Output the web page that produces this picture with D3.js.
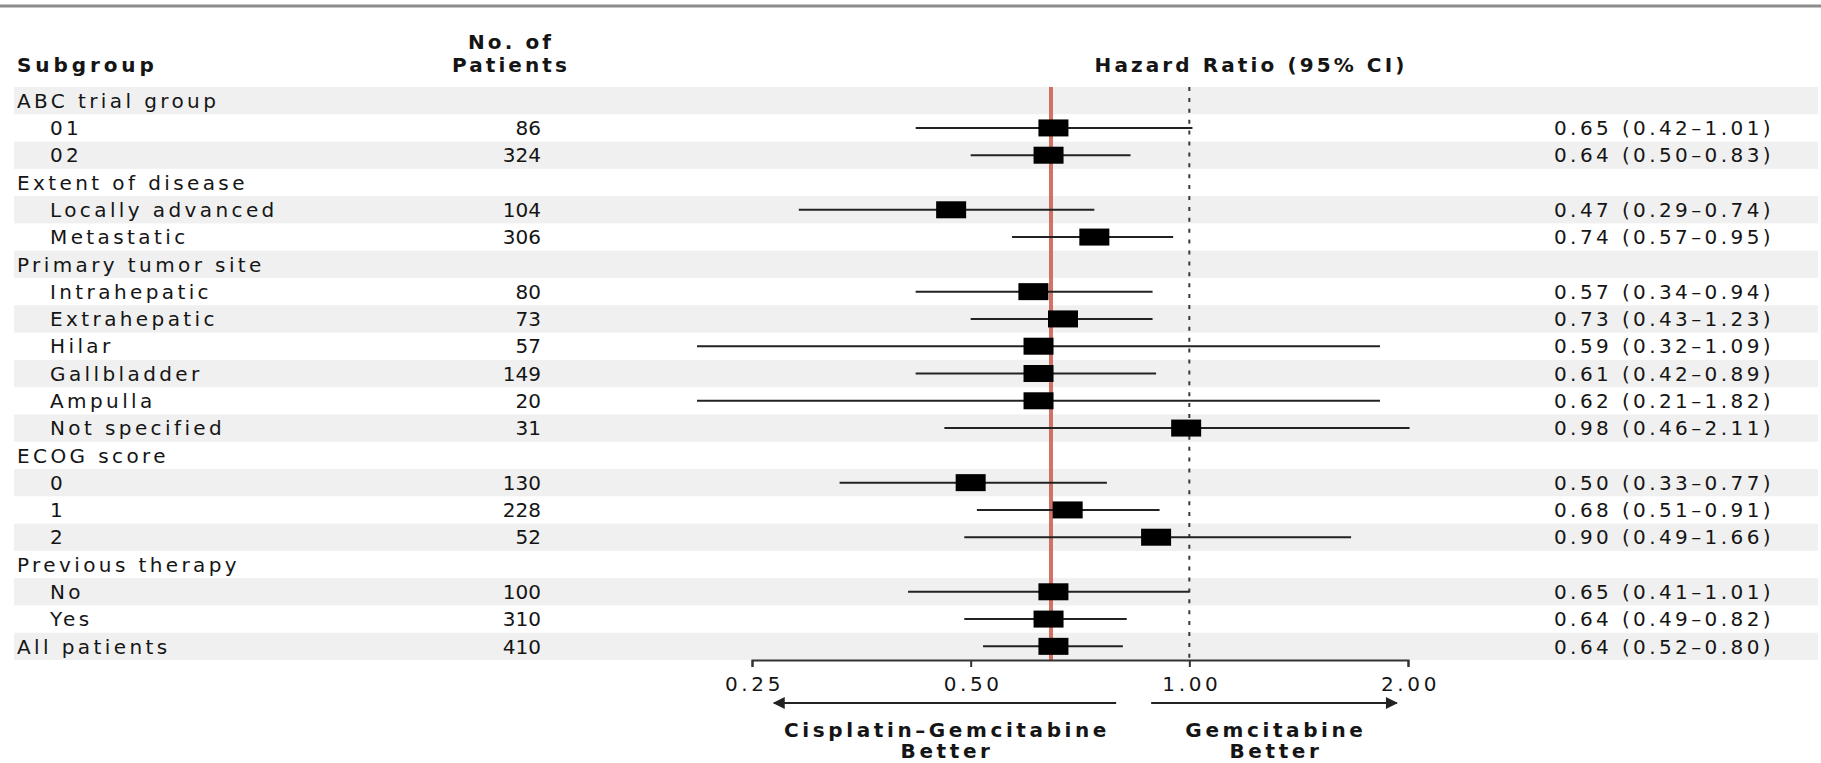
<!DOCTYPE html>
<html>
<head>
<meta charset="utf-8">
<script src="https://cdn.jsdelivr.net/npm/d3@7"></script>
<style>
body { margin: 0; background: #fff; }
text { font-family: "DejaVu Sans", "Open Sans", sans-serif; fill: #151515; }
</style>
</head>
<body>
<script>
var width = 1821, height = 763;

var subgroups = ["ABC trial group", "01", "02", "Extent of disease", "Locally advanced", "Metastatic",
    "Primary tumor site", "Intrahepatic", "Extrahepatic", "Hilar", "Gallbladder", "Ampulla", "Not specified",
    "ECOG score", "0", "1", "2", "Previous therapy", "No", "Yes", "All patients"];
var indent = [0, 1, 1, 0, 1, 1, 0, 1, 1, 1, 1, 1, 1, 0, 1, 1, 1, 0, 1, 1, 0];
var patients = [null, 86, 324, null, 104, 306, null, 80, 73, 57, 149, 20, 31, null, 130, 228, 52, null, 100, 310, 410];

// drawn positions
var hr = [null, 0.65, 0.64, null, 0.47, 0.74, null, 0.61, 0.67, 0.62, 0.62, 0.62, 0.99, null, 0.50, 0.68, 0.90, null, 0.65, 0.64, 0.65];
var lo = [null, 0.42, 0.50, null, 0.29, 0.57, null, 0.42, 0.50, 0.21, 0.42, 0.21, 0.46, null, 0.33, 0.51, 0.49, null, 0.41, 0.49, 0.52];
var hi = [null, 1.01, 0.83, null, 0.74, 0.95, null, 0.89, 0.89, 1.83, 0.90, 1.83, 2.01, null, 0.77, 0.91, 1.67, null, 1.00, 0.82, 0.81];

var ciText = [null, "0.65 (0.42\u20131.01)", "0.64 (0.50\u20130.83)", null, "0.47 (0.29\u20130.74)", "0.74 (0.57\u20130.95)",
    null, "0.57 (0.34\u20130.94)", "0.73 (0.43\u20131.23)", "0.59 (0.32\u20131.09)", "0.61 (0.42\u20130.89)",
    "0.62 (0.21\u20131.82)", "0.98 (0.46\u20132.11)", null, "0.50 (0.33\u20130.77)", "0.68 (0.51\u20130.91)",
    "0.90 (0.49\u20131.66)", null, "0.65 (0.41\u20131.01)", "0.64 (0.49\u20130.82)", "0.64 (0.52\u20130.80)"];

var tickValues = [0.25, 0.5, 1, 2];
var tickLabels = ["0.25", "0.50", "1.00", "2.00"];
var overallHR = 0.645;
var nullHR = 1;
var leftArrow = [0.268, 0.793];
var rightArrow = [0.886, 1.93];

var fontSize = "20px";

var svg = d3.select("body").append("svg")
        .attr("width", width)
        .attr("height", height);

var x = d3.scaleLog().base(2)
        .domain([0.25, 2])
        .range([752, 1408]);

var y = d3.scaleBand()
        .domain(d3.range(subgroups.length))
        .range([87, 660]);

// top rule
svg.append("line")
    .attr("x1", 0).attr("x2", width)
    .attr("y1", 6).attr("y2", 6)
    .style("stroke", "#8c8c8c")
    .style("stroke-width", 3);

// stripes
svg.append("g").selectAll("rect")
    .data(d3.range(subgroups.length).filter(function(i) { return i % 2 == 0; }))
    .enter().append("rect")
    .attr("x", 14)
    .attr("width", 1818 - 14)
    .attr("y", function(i) { return y(i); })
    .attr("height", y.bandwidth())
    .style("fill", "#f0f0f0");

// headers
var head = svg.append("g").style("font-weight", "bold").style("font-size", fontSize).style("letter-spacing", "3.1px");
head.append("text").attr("x", 17).attr("y", 72).style("letter-spacing", "3.9px").text("Subgroup");
head.append("text").attr("x", 511).attr("y", 49).attr("text-anchor", "middle").text("No. of");
head.append("text").attr("x", 511).attr("y", 72).attr("text-anchor", "middle").text("Patients");
head.append("text").attr("x", 1251).attr("y", 72).attr("text-anchor", "middle").text("Hazard Ratio (95% CI)");

var body = svg.append("g").style("font-size", fontSize).style("letter-spacing", "3.4px");

body.selectAll("text.label")
    .data(subgroups)
    .enter().append("text")
    .attr("class", "label")
    .attr("x", function(d, i) { return indent[i] ? 50 : 17; })
    .attr("y", function(d, i) { return y(i) + y.bandwidth() / 2; })
    .attr("dy", "0.36em")
    .text(function(d) { return d; });

body.selectAll("text.n")
    .data(patients)
    .enter().append("text")
    .attr("class", "n")
    .attr("x", 541)
    .attr("y", function(d, i) { return y(i) + y.bandwidth() / 2; })
    .attr("dy", "0.36em")
    .attr("text-anchor", "end")
    .style("letter-spacing", "0px")
    .text(function(d) { return d == null ? "" : d; });

body.selectAll("text.ci")
    .data(ciText)
    .enter().append("text")
    .attr("class", "ci")
    .attr("x", 1554)
    .attr("y", function(d, i) { return y(i) + y.bandwidth() / 2; })
    .attr("dy", "0.36em")
    .style("letter-spacing", "3.4px")
    .text(function(d) { return d == null ? "" : d; });

// reference lines
svg.append("line")
    .attr("x1", x(nullHR)).attr("x2", x(nullHR))
    .attr("y1", y.range()[0]).attr("y2", y.range()[1])
    .style("stroke", "#3a3a3a")
    .style("stroke-width", 2)
    .style("stroke-dasharray", "4,6.9");

svg.append("line")
    .attr("x1", x(overallHR)).attr("x2", x(overallHR))
    .attr("y1", y.range()[0]).attr("y2", y.range()[1])
    .style("stroke", "#cf6357")
    .style("stroke-width", 4)
    .style("opacity", 0.9);

// CIs and boxes
var rows = d3.range(subgroups.length).filter(function(i) { return hr[i] != null; });

var marks = svg.append("g").selectAll("g")
    .data(rows)
    .enter().append("g");

marks.append("line")
    .attr("x1", function(i) { return x(lo[i]); })
    .attr("x2", function(i) { return x(hi[i]); })
    .attr("y1", function(i) { return y(i) + y.bandwidth() / 2; })
    .attr("y2", function(i) { return y(i) + y.bandwidth() / 2; })
    .style("stroke", "#222")
    .style("stroke-width", 2);

marks.append("rect")
    .attr("x", function(i) { return x(hr[i]) - 15; })
    .attr("y", function(i) { return y(i) + y.bandwidth() / 2 - 8.5; })
    .attr("width", 30)
    .attr("height", 17)
    .style("fill", "#000");

// axis
var xAxis = d3.axisBottom(x)
    .tickValues(tickValues)
    .tickFormat(function(d, i) { return tickLabels[i]; })
    .tickSize(7)
    .tickPadding(10);

var axis = svg.append("g")
    .attr("transform", "translate(0," + y.range()[1] + ")")
    .call(xAxis);
axis.select(".domain").style("stroke", "#333").style("stroke-width", 2);
axis.selectAll(".tick line").style("stroke", "#333").style("stroke-width", 2);
axis.selectAll(".tick text")
    .attr("dx", "2px")
    .style("font-family", "'DejaVu Sans', 'Open Sans', sans-serif")
    .style("font-size", fontSize)
    .style("letter-spacing", "3.6px")
    .style("fill", "#151515");

// arrows
var defs = svg.append("defs");
defs.append("marker")
    .attr("id", "head")
    .attr("viewBox", "0 0 10 10")
    .attr("refX", 9).attr("refY", 5)
    .attr("markerWidth", 9).attr("markerHeight", 6)
    .attr("markerUnits", "strokeWidth")
    .attr("orient", "auto")
    .append("path")
    .attr("d", "M0,0L10,5L0,10Z")
    .style("fill", "#222");

var arrowY = 703;
svg.append("line")
    .attr("x1", x(leftArrow[1])).attr("x2", x(leftArrow[0]))
    .attr("y1", arrowY).attr("y2", arrowY)
    .style("stroke", "#222").style("stroke-width", 2)
    .attr("marker-end", "url(#head)");
svg.append("line")
    .attr("x1", x(rightArrow[0])).attr("x2", x(rightArrow[1]))
    .attr("y1", arrowY).attr("y2", arrowY)
    .style("stroke", "#222").style("stroke-width", 2)
    .attr("marker-end", "url(#head)");

var foot = svg.append("g").style("font-weight", "bold").style("font-size", fontSize).style("letter-spacing", "3.6px")
    .attr("text-anchor", "middle");
var lc = (x(leftArrow[0]) + x(leftArrow[1])) / 2 + 2;
var rc = (x(rightArrow[0]) + x(rightArrow[1])) / 2 + 2;
foot.append("text").attr("x", lc).attr("y", 737).text("Cisplatin\u2013Gemcitabine");
foot.append("text").attr("x", lc).attr("y", 758).text("Better");
foot.append("text").attr("x", rc).attr("y", 737).text("Gemcitabine");
foot.append("text").attr("x", rc).attr("y", 758).text("Better");
</script>
</body>
</html>
